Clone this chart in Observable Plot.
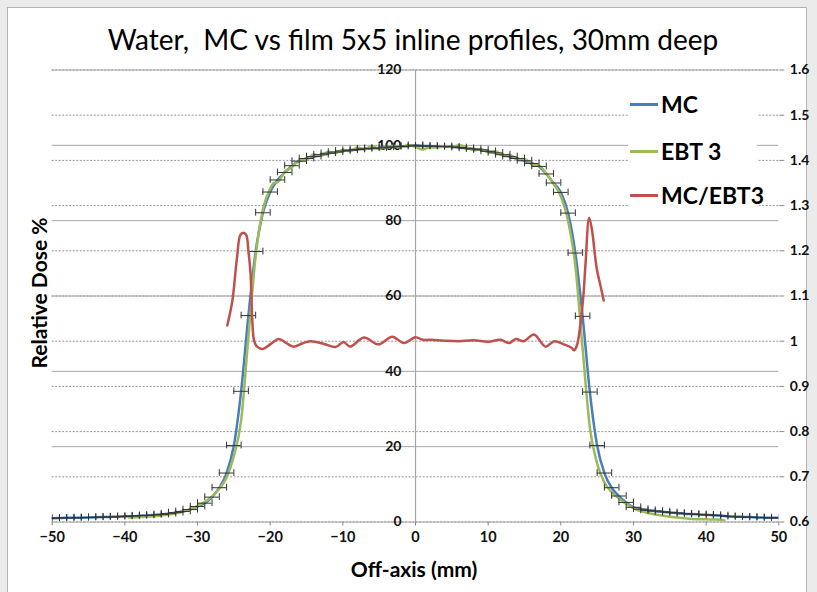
<!DOCTYPE html>
<html><head><meta charset="utf-8">
<script src="https://cdn.jsdelivr.net/npm/d3@7"></script>
<script src="https://cdn.jsdelivr.net/npm/@observablehq/plot@0.6"></script>
<style>
html,body{margin:0;padding:0;background:#ebebeb;width:817px;height:592px;overflow:hidden;font-family:Lato,sans-serif}
#panel{position:absolute;left:7px;top:7px;width:798px;height:600px;background:#fff;border:1px solid #b3b3b3}
#title{position:absolute;left:0;width:826px;top:22px;text-align:center;font-size:28px;color:#000;white-space:pre}
#chart{position:absolute;left:0;top:60px}
#ylab{position:absolute;left:38px;top:293px;transform:translate(-50%,-50%) rotate(-90deg);font-weight:bold;font-size:21px;white-space:nowrap}
#xlab{position:absolute;left:414px;top:568px;transform:translate(-50%,-50%);font-weight:bold;font-size:21px;white-space:nowrap}
#legend{position:absolute;left:628px;top:88px;width:129px;height:122px;background:#fff}
.row{position:absolute;left:2px;height:30px;display:flex;align-items:center}
.sw{width:28px;height:3px;margin-right:3px}
.lt{font-weight:bold;font-size:23px}
</style></head><body>
<div id="panel"></div>
<div id="title">Water,  MC vs film 5x5 inline profiles, 30mm deep</div>
<div id="chart"></div>
<div id="ylab">Relative Dose %</div>
<div id="xlab">Off-axis (mm)</div>
<div id="legend"></div>
<script>
// ---- data ----
const seriesNames = ["MC", "EBT 3", "MC/EBT3"];
const seriesColors = ["#4a7ebb", "#9bbb59", "#c0504d"];

const xTicks = [-50, -40, -30, -20, -10, 0, 10, 20, 30, 40, 50];
const leftTicks = [0, 20, 40, 60, 80, 100, 120];
const rightTicks = [0.6, 0.7, 0.8, 0.9, 1.0, 1.1, 1.2, 1.3, 1.4, 1.5, 1.6];

const mcX = [-50,-49,-48,-47,-46,-45,-44,-43,-42,-41,-40,-39,-38,-37,-36,-35,-34,-33,-32,-31,-30,-29,-28,-27,-26,-25,-24,-23,-22,-21,-20,-19,-18,-17,-16,-15,-14,-13,-12,-11,-10,-9,-8,-7,-6,-5,-4,-3,-2,-1,0,1,2,3,4,5,6,7,8,9,10,11,12,13,14,15,16,17,18,19,20,21,22,23,24,25,26,27,28,29,30,31,32,33,34,35,36,37,38,39,40,41,42,43,44,45,46,47,48,49,50];
const mcV = [1.0,1.05,1.1,1.1,1.15,1.2,1.25,1.3,1.35,1.4,1.5,1.55,1.65,1.75,1.85,2.0,2.2,2.5,2.8,3.3,4.1,5.0,6.6,9.1,13.0,20.3,34.7,54.8,71.8,82.1,87.6,90.8,92.8,94.6,95.8,96.5,97.0,97.5,97.9,98.2,98.5,98.7,98.9,99.1,99.2,99.3,99.5,99.6,99.7,99.8,100.0,99.8,99.8,99.7,99.7,99.6,99.4,99.2,99.0,98.8,98.4,98.0,97.5,97.0,96.5,95.9,95.2,94.4,92.4,90.0,87.5,82.0,71.4,54.6,34.5,20.3,13.0,9.1,6.9,5.2,3.9,3.4,3.1,2.9,2.7,2.5,2.4,2.2,2.1,2.0,1.9,1.8,1.7,1.5,1.4,1.35,1.3,1.2,1.15,1.1,1.1];

const ebtX = [-39.5,-39,-38,-37,-36,-35,-34,-33,-32,-31,-30,-29,-28,-27,-26,-25,-24,-23,-22,-21,-20,-19.5,-19,-18,-17,-16,-15,-14,-13,-12,-11,-10,-9,-8,-7,-6,-5,-4,-3,-2,-1,0,1,2,3,4,5,6,7,8,9,10,11,12,13,14,15,16,17,18,19,20,21,22,23,24,25,26,27,28,29,30,31,32,33,34,35,36,37,38,39,40,41,42,42.5];
const ebtV = [1.2,1.2,1.3,1.4,1.55,1.75,2.0,2.3,2.8,3.4,4.3,5.3,6.8,8.8,11.8,17.5,27,49,70.5,83,88.5,90.0,90.2,93.0,94.2,96.0,96.2,97.6,97.2,98.3,97.9,98.8,98.4,99.4,98.9,99.8,99.1,99.5,99.9,99.4,100.1,99.6,98.9,99.5,99.4,99.8,99.5,100.0,99.5,98.7,99.0,98.2,98.4,97.3,97.5,96.2,96.4,94.9,94.6,92.5,89.8,86.5,80,68,46,25,15.5,10.5,8.0,6.2,4.8,3.7,2.9,2.4,2.0,1.7,1.4,1.2,1.0,0.8,0.75,0.7,0.65,0.6,0.4];

const ratioX = [-25.9,-25.2,-24.6,-24.1,-23.7,-23.3,-23.0,-22.7,-22.5,-22.2,-21.8,-21.0,-20.0,-18.8,-17.8,-16.8,-15.6,-14.5,-12.6,-11.0,-9.9,-9.0,-7.1,-5.1,-3.2,-1.6,0,1.0,2.1,4.0,6.0,8.0,10.0,11.7,12.9,13.8,14.9,16.3,17.9,19.1,20.4,21.5,21.8,22.2,22.7,23.1,23.4,23.9,24.3,24.7,25.0,25.5,25.9];
const ratioV = [1.035,1.09,1.18,1.235,1.24,1.235,1.20,1.15,1.06,1.0,0.988,0.983,0.993,1.005,0.996,0.988,0.995,1.0,0.994,0.987,0.998,0.988,1.008,0.993,1.01,0.996,1.009,1.003,1.003,1.001,1.0,1.002,0.999,1.003,0.996,1.005,1.0,1.015,0.988,1.0,0.993,0.985,0.98,0.99,1.038,1.10,1.171,1.273,1.245,1.19,1.156,1.12,1.09];

// ---- build tables ----
const mc = mcX.map((x, i) => ({x, v: mcV[i]}));
const ebt = ebtX.map((x, i) => ({x, v: ebtV[i]}));
const ratio = ratioX.map((x, i) => ({x, r: ratioV[i]}));
const toLeft = r => (r - 0.6) * 120;   // right axis 0.6–1.6 mapped onto left 0–120
const caps = mc.flatMap(d => [{x: d.x - 1, v: d.v}, {x: d.x + 1, v: d.v}]);

const chart = Plot.plot({
  width: 817,
  height: 532,
  marginTop: 9.5,
  marginBottom: 70.5,
  marginLeft: 51.7,
  marginRight: 38.7,
  style: {fontFamily: "Lato, sans-serif", background: "transparent", overflow: "visible"},
  x: {domain: [-50, 50]},
  y: {domain: [0, 120]},
  marks: [
    Plot.ruleY(rightTicks.map(toLeft), {stroke: "#7a7a7a", strokeWidth: 0.8, strokeDasharray: "2,1.5"}),
    Plot.ruleY(leftTicks, {stroke: "#a6a6a6", strokeWidth: 1}),
    Plot.ruleX([0], {stroke: "#a6a6a6", strokeWidth: 1.2}),
    Plot.axisX({ticks: xTicks, tickSize: 4, tickPadding: 6, fontWeight: "bold", fontSize: 14.5, label: null, stroke: "#888", color: "#111"}),
    Plot.axisY({anchor: "right", ticks: rightTicks.map(toLeft), tickFormat: d => String(Math.round((0.6 + d / 120) * 10) / 10), tickSize: 5, tickPadding: 6, fontWeight: "bold", fontSize: 14, label: null, stroke: "#888", color: "#111"}),
    Plot.text(leftTicks, {x: 0, y: d => d, text: d => String(d), textAnchor: "end", dx: -14, fontWeight: "bold", fontSize: 14, fill: "#111"}),
    Plot.line(mc, {x: "x", y: "v", stroke: seriesColors[0], strokeWidth: 2.5, curve: "monotone-x", clip: true}),
    Plot.line(ebt, {x: "x", y: "v", stroke: seriesColors[1], strokeWidth: 2.5, curve: "monotone-x", clip: true}),
    Plot.ruleY(mc, {y: "v", x1: d => d.x - 1, x2: d => d.x + 1, stroke: "#333", strokeWidth: 1, clip: true}),
    Plot.ruleX(caps, {x: "x", y1: d => d.v - 0.9, y2: d => d.v + 0.9, stroke: "#333", strokeWidth: 1, clip: true}),
    Plot.line(ratio, {x: "x", y: d => toLeft(d.r), stroke: seriesColors[2], strokeWidth: 2.5, curve: "catmull-rom"})
  ]
});
document.getElementById("chart").appendChild(chart);

// legend
const leg = document.getElementById("legend");
const rowTops = [1, 48, 92];
seriesNames.forEach((n, i) => {
  const r = document.createElement("div");
  r.className = "row";
  r.style.top = rowTops[i] + "px";
  r.innerHTML = `<span class="sw" style="background:${seriesColors[i]}"></span><span class="lt">${n}</span>`;
  leg.appendChild(r);
});
</script>
</body></html>
